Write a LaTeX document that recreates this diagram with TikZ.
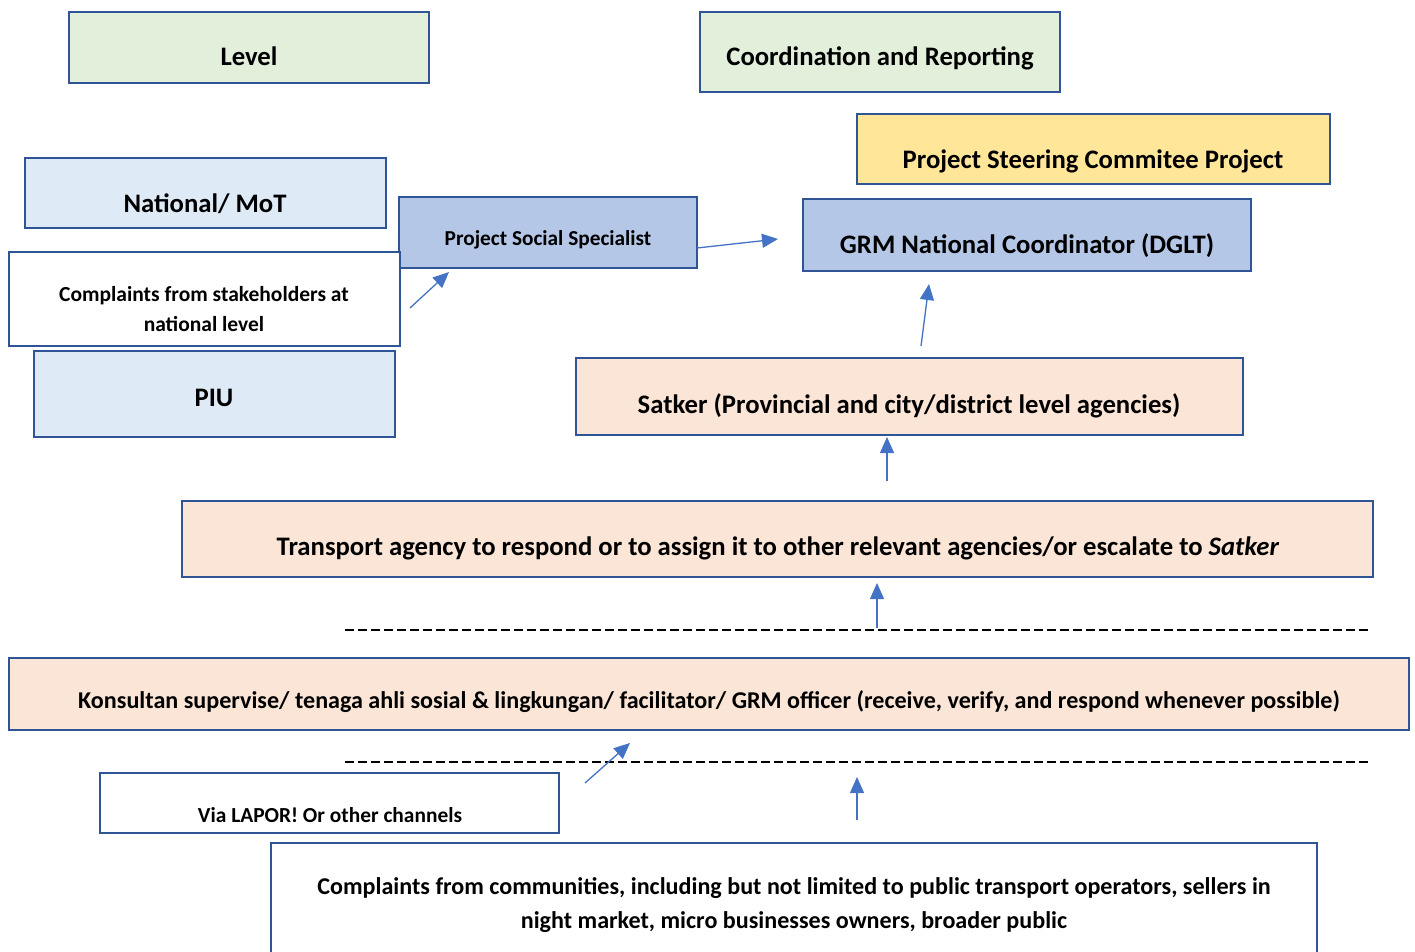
\documentclass[tikz,border=0pt]{standalone}
\usepackage{fontspec}
\setmainfont{Carlito}
\usetikzlibrary{arrows.meta}
\definecolor{bordc}{HTML}{2F5597}
\definecolor{arrc}{HTML}{4472C4}
\definecolor{greenf}{HTML}{E2EFDA}
\definecolor{lbluef}{HTML}{DEEBF7}
\definecolor{mbluef}{HTML}{B4C7E7}
\definecolor{yellowf}{HTML}{FFE699}
\definecolor{peachf}{HTML}{FBE5D6}
\tikzset{
  box/.style={draw=bordc, line width=2.2pt, inner sep=0pt},
  txt/.style={font=\bfseries\fontsize{26.7}{30}\selectfont, inner sep=0pt, text height=0.64em, text depth=0pt},
  stxt/.style={font=\bfseries\fontsize{21.5}{30}\selectfont, inner sep=0pt, align=center},
  arr/.style={draw=arrc, line width=1.3pt, -{Triangle[length=16pt,width=14pt]}},
  dline/.style={draw=black, line width=2.8pt, dash pattern=on 9pt off 4pt},
}
\begin{document}
\begin{tikzpicture}[x=1pt,y=-1pt]
\useasboundingbox (0,0) rectangle (1415,952);
\clip (0,0) rectangle (1415,952);
% boxes
\draw[box, fill=greenf] (69,12) rectangle (429,83);
\node[txt] (lvl) at (249,62) {Level};
\draw[box, fill=greenf] (700,12) rectangle (1060,92);
\node[txt] (coord) at (880,62) {Coordination and Reporting};
\draw[box, fill=yellowf] (857,114) rectangle (1330,184);
\node[txt] (psc) at (1093,165) {Project Steering Commitee Project};
\draw[box, fill=lbluef] (25,158) rectangle (386,228);
\node[txt] (nat) at (205,209) {National/ MoT};
\draw[box, fill=mbluef] (399,197) rectangle (697,268);
\node[txt, font=\bfseries\fontsize{21.3}{24}\selectfont] (pss) at (548,242.5) {Project Social Specialist};
\draw[box, fill=mbluef] (803,199) rectangle (1251,271);
\node[txt] (grm) at (1027,250) {GRM National Coordinator (DGLT)};
\draw[box, fill=white] (9,252) rectangle (400,346);
\node[stxt] (cst) at (204,309.5) {Complaints from stakeholders at\\national level};
\draw[box, fill=lbluef] (34,351) rectangle (395,437);
\node[txt] (piu) at (214,403) {PIU};
\draw[box, fill=peachf] (576,358) rectangle (1243,435);
\node[txt] (sat) at (909,410) {Satker (Provincial and city/district level agencies)};
\draw[box, fill=peachf] (182,501) rectangle (1373,577);
\node[txt] (tra) at (778,552) {Transport agency to respond or to assign it to other relevant agencies/or escalate to \textit{Satker}};
\draw[dline] (345,630) -- (1370,630);
\draw[box, fill=peachf] (9,658) rectangle (1409,730);
\node[txt, font=\bfseries\fontsize{24.1}{27}\selectfont] (kon) at (709,705.5) {Konsultan supervise/ tenaga ahli sosial \& lingkungan/ facilitator/ GRM officer (receive, verify, and respond whenever possible)};
\draw[dline] (345,762) -- (1370,762);
\draw[box, fill=white] (100,773) rectangle (559,833);
\node[txt, font=\bfseries\fontsize{21.4}{24}\selectfont] (via) at (330,819.5) {Via LAPOR! Or other channels};
\draw[box, fill=white] (271,843) rectangle (1317,970);
\node[stxt, font=\bfseries\fontsize{24.1}{34}\selectfont] (com) at (794,905) {Complaints from communities, including but not limited to public transport operators, sellers in\\night market, micro businesses owners, broader public};
% arrows
\coordinate (a1s) at (410,308); \coordinate (a1e) at (449,272);
\coordinate (a2s) at (697,248); \coordinate (a2e) at (778,239);
\coordinate (a3s) at (921,346); \coordinate (a3e) at (929,284);
\coordinate (a4s) at (887,481); \coordinate (a4e) at (887,437);
\coordinate (a5s) at (877,628); \coordinate (a5e) at (877,583);
\coordinate (a6s) at (585,783); \coordinate (a6e) at (630,743);
\coordinate (a7s) at (857,820); \coordinate (a7e) at (857,777);
\draw[arr] (a1s) -- (a1e);
\draw[arr] (a2s) -- (a2e);
\draw[arr] (a3s) -- (a3e);
\draw[arr] (a4s) -- (a4e);
\draw[arr] (a5s) -- (a5e);
\draw[arr] (a6s) -- (a6e);
\draw[arr] (a7s) -- (a7e);
\end{tikzpicture}
\end{document}
